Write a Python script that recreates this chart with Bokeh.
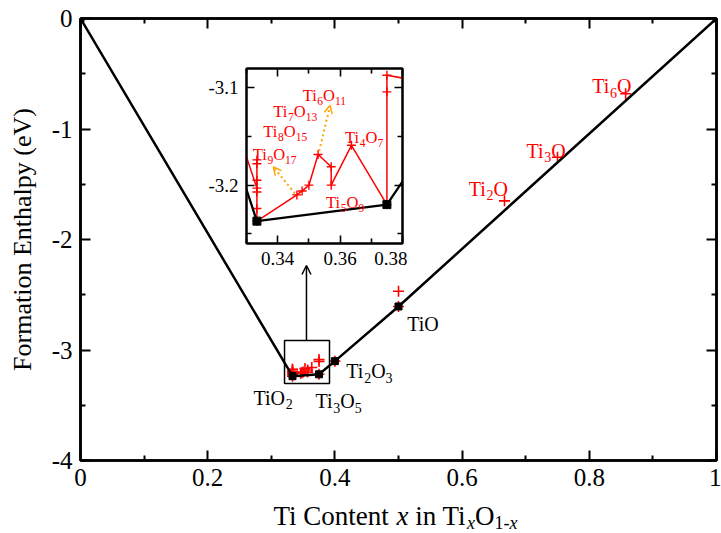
import re
from bokeh.plotting import figure
from bokeh.models import Label, Arrow, OpenHead, BoxAnnotation, FixedTicker, LinearAxis
from bokeh.layouts import column
from bokeh.embed import file_html
from bokeh.resources import INLINE

FONT = "Liberation Serif"

# ---------------- data ----------------
# ground states on the convex hull (Ti content x, formation enthalpy eV)
hull_x = [0.0, 1/3, 3/8, 2/5, 1/2, 1.0]
hull_e = [0.0, -3.237, -3.220, -3.101, -2.606, 0.0]
hull_names = ["TiO2", "Ti3O5", "Ti2O3", "TiO"]

# all computed structures, in the order joined by the red line of the inset
calc_x = [0.0, 1/3, 1/3, 1/3, 1/3, 1/3, 1/3, 1/3,
          9/26, 8/23, 7/20, 6/17, 5/14, 5/14, 4/11,
          3/8, 3/8, 3/8, 2/5, 1/2, 1/2, 2/3, 3/4, 6/7, 1.0]
calc_e = [0.0, -3.203, -3.174, -3.178, -3.195, -3.207, -3.224, -3.237,
          -3.210, -3.206, -3.200, -3.1685, -3.181, -3.200, -3.159,
          -3.220, -3.104, -3.087, -3.101, -2.606, -2.468, -1.650, -1.255, -0.681, 0.0]
red_names = ["Ti2O", "Ti3O", "Ti6O"]
inset_names = ["Ti9O17", "Ti8O15", "Ti7O13", "Ti6O11", "Ti5O9", "Ti4O7"]

x_ticks = [0, 0.2, 0.4, 0.6, 0.8, 1.0]
x_tick_labels = ["0", "0.2", "0.4", "0.6", "0.8", "1"]
x_minor = [0.1, 0.3, 0.5, 0.7, 0.9]
y_ticks = [0, -1, -2, -3, -4]
y_tick_labels = ["0", "-1", "-2", "-3", "-4"]
y_minor = [-0.5, -1.5, -2.5, -3.5]

ix_ticks = [0.34, 0.36, 0.38]
ix_tick_labels = ["0.34", "0.36", "0.38"]
ix_minor = [0.33, 0.35, 0.37]
iy_ticks = [-3.1, -3.2]
iy_tick_labels = ["-3.1", "-3.2"]
iy_minor = [-3.15, -3.25]

# ---------------- helpers ----------------
W = {'T': 611, 'i': 278, ' ': 250, 'C': 667, 'o': 500, 'n': 500, 't': 278,
     'e': 444, 'O': 722, '-': 333, 'x': 444}


def text_w(s, px):
    return sum(W.get(c, 500) for c in s) * px / 1000.0


def formula(fig, name, x, y, size, color):
    sub = size * 0.7
    drop = size * 0.32
    off = 0.0
    for part in re.findall(r"[A-Za-z]+|\d+", name):
        is_sub = part.isdigit()
        fs = sub if is_sub else size
        fig.add_layout(Label(x=x, y=y, x_offset=off, y_offset=-drop if is_sub else 0,
                             text=part, text_font=FONT, text_font_size=f"{fs:.1f}px",
                             text_color=color, text_baseline="alphabetic", text_align="left"))
        off += text_w(part, fs)


def dress(fig, xt, xl, xm, yt, yl, ym, font_px, major, minor, lw, standoff):
    top = LinearAxis()
    right = LinearAxis()
    fig.add_layout(top, "above")
    fig.add_layout(right, "right")
    bottom = fig.below[0]
    left = fig.left[0]
    for ax in (bottom, top):
        ax.ticker = FixedTicker(ticks=xt, minor_ticks=xm)
    for ax in (left, right):
        ax.ticker = FixedTicker(ticks=yt, minor_ticks=ym)
    bottom.major_label_overrides = dict(zip(xt, xl))
    left.major_label_overrides = dict(zip(yt, yl))
    top.major_label_overrides = {t: "" for t in xt}
    right.major_label_overrides = {t: "" for t in yt}
    for ax in (bottom, left, top, right):
        ax.major_tick_in = major
        ax.major_tick_out = 0
        ax.minor_tick_in = minor
        ax.minor_tick_out = 0
        ax.axis_line_width = lw
        ax.major_tick_line_width = lw * 0.8
        ax.minor_tick_line_width = lw * 0.8
        ax.major_label_text_font = FONT
        ax.major_label_text_font_size = f"{font_px}px"
        ax.major_label_text_color = "black"
        ax.major_label_standoff = standoff
    for ax in (top, right):
        ax.major_label_text_font_size = "1px"
        ax.major_label_standoff = 0
    fig.grid.visible = False
    fig.outline_line_color = "black"
    fig.outline_line_width = lw
    return left, bottom


# ---------------- main figure ----------------
p = figure(width=721, height=533, x_range=(0, 1), y_range=(-4, 0),
           output_backend="svg", toolbar_location=None,
           min_border_left=80, min_border_right=5, min_border_top=18, min_border_bottom=73)
left, bottom = dress(p, x_ticks, x_tick_labels, x_minor, y_ticks, y_tick_labels, y_minor,
                     25, 10, 5, 2.5, 8)
left.axis_label = "Formation Enthalpy (eV)"
left.axis_label_text_font = FONT
left.axis_label_text_font_size = "26px"
left.axis_label_text_font_style = "normal"
left.axis_label_text_color = "black"
left.axis_label_standoff = 12

p.scatter(calc_x, calc_e, marker="cross", size=11, line_color="red", line_width=1.6)
p.line(hull_x, hull_e, line_color="black", line_width=2.5)
p.scatter(hull_x, hull_e, marker="square", size=7, fill_color="black", line_color="black")

p.add_layout(BoxAnnotation(left=0.3208, right=0.3915, top=-2.914, bottom=-3.303,
                           fill_alpha=0, line_color="black", line_width=1.5, line_alpha=1))
p.add_layout(Arrow(end=OpenHead(size=9, line_width=1.5, line_color="black"),
                   x_start=0.3553, y_start=-2.914, x_end=0.3553, y_end=-2.235,
                   line_width=1.5, line_color="black"))

hull_label_pos = [(0.272, -3.430), (0.3695, -3.466), (0.418, -3.192), (0.5137, -2.763)]
for name, (lx, ly) in zip(hull_names, hull_label_pos):
    formula(p, name, lx, ly, 20, "black")
red_label_pos = [(0.6106, -1.541), (0.7013, -1.195), (0.8045, -0.613)]
for name, (lx, ly) in zip(red_names, red_label_pos):
    formula(p, name, lx, ly, 20, "red")

# ---------------- x-axis title (own transparent strip, real text) ----------------
TW, TH = 270, 48
BASE = 18
tf = figure(width=80 + TW + 5, height=TH, x_range=(0, TW), y_range=(0, TH),
            output_backend="svg", toolbar_location=None,
            x_axis_location=None, y_axis_location=None,
            min_border_left=80, min_border_right=5, min_border_top=0, min_border_bottom=0,
            background_fill_color=None, border_fill_color=None, outline_line_color=None)
tf.grid.visible = False
# (text, italic, subscript, space after)
title_parts = [("Ti Content", False, False, True), ("x", True, False, True),
               ("in Ti", False, False, False), ("x", True, True, False),
               ("O", False, False, False), ("1-", False, True, False), ("x", True, True, False)]
off = 2.0
for txt, ital, sub, gap in title_parts:
    fs = 18 if sub else 27
    tf.add_layout(Label(x=off, y=BASE - (7 if sub else 0), text=txt, text_font=FONT,
                        text_font_size=f"{fs}px",
                        text_font_style="italic" if ital else "normal",
                        text_color="black", text_baseline="alphabetic", text_align="left"))
    off += text_w(txt, fs) + (text_w(" ", 27) if gap else 0)
# title starts at x=273, baseline at y=515, strip ends at the page bottom
tf.styles = {"position": "absolute", "left": "191px", "top": f"{515 - (TH - BASE)}px"}

# ---------------- inset ----------------
ins = figure(width=80 + 156 + 5, height=210, x_range=(0.33, 0.38), y_range=(-3.26, -3.08),
             output_backend="svg", toolbar_location=None,
             min_border_left=80, min_border_right=5, min_border_top=5, min_border_bottom=30,
             background_fill_color="white", border_fill_color=None)
dress(ins, ix_ticks, ix_tick_labels, ix_minor, iy_ticks, iy_tick_labels, iy_minor,
      19, 8, 5, 2, 8)

ins.line(calc_x, calc_e, line_color="red", line_width=1.5)
ins.scatter(calc_x, calc_e, marker="cross", size=9, line_color="red", line_width=1.4)
ins.line(hull_x, hull_e, line_color="black", line_width=2.3)
ins.scatter(hull_x, hull_e, marker="square", size=8, fill_color="black", line_color="black")

orange = "#ffa500"
for (x0, y0, x1, y1) in [(0.3455, -3.2085, 0.3386, -3.1812), (0.3533, -3.1648, 0.3568, -3.1179)]:
    ins.add_layout(Arrow(end=OpenHead(size=8, line_width=1.5, line_color=orange),
                         x_start=x0, y_start=y0, x_end=x1, y_end=y1,
                         line_width=2, line_color=orange, line_dash="2 3"))

inset_label_pos = [(0.3320, -3.1685), (0.3354, -3.1453), (0.3386, -3.124),
                   (0.3480, -3.1076), (0.3555, -3.2182), (0.3616, -3.1507)]
for name, (lx, ly) in zip(inset_names, inset_label_pos):
    formula(ins, name, lx, ly, 16.5, "red")

# frame at x 246..402, y 68..243
ins.styles = {"position": "absolute", "left": "166px", "top": "63px"}

page = column(p, ins, tf, styles={"position": "relative"})

open("out.html", "w").write(file_html(page, INLINE))
